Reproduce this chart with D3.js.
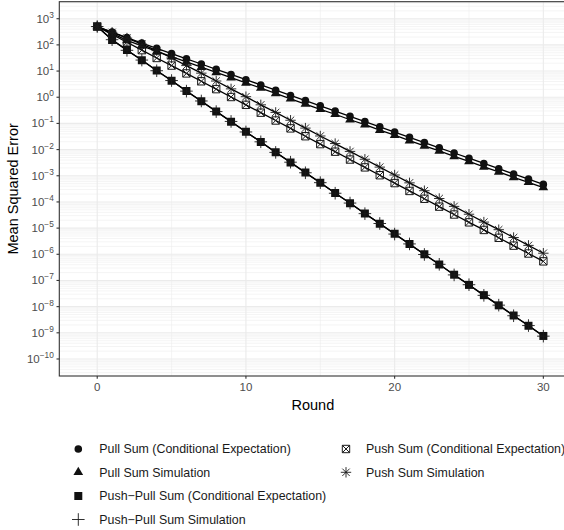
<!DOCTYPE html>
<html>
<head>
<meta charset="utf-8">
<script src="https://cdn.jsdelivr.net/npm/d3@7"></script>
<style>
  html, body { margin: 0; padding: 0; background: #fff; }
  svg { display: block; font-family: "Liberation Sans", Arial, sans-serif; }
</style>
</head>
<body>
<svg id="chart" width="564" height="530"></svg>
<script>
// Rounds of the gossip protocol
const rounds = d3.range(0, 31);

// Mean squared error per round for each aggregation scheme
const pullSumCE = [501, 309, 191, 117, 74.1, 46.8, 29.5, 18.6, 11.7, 7.41, 4.68, 2.95, 1.86, 1.17,
  0.741, 0.468, 0.295, 0.186, 0.117, 0.0741, 0.0468, 0.0295, 0.0186, 0.0117, 0.00741, 0.00468,
  0.00295, 0.00186, 0.00117, 0.000741, 0.000468];
const pullSumSim = [501, 275, 148, 91.2, 56.2, 35.5, 22.4, 14.1, 8.91, 5.62, 3.55, 2.24, 1.41, 0.871,
  0.550, 0.347, 0.224, 0.138, 0.0891, 0.0550, 0.0355, 0.0219, 0.0138, 0.00891, 0.00550, 0.00355,
  0.00219, 0.00141, 0.000871, 0.000562, 0.000355];
const pushPullCE = [501, 155, 63.1, 25.7, 10.5, 4.27, 1.74, 0.708, 0.288, 0.117, 0.0479, 0.0195,
  0.00794, 0.00324, 0.00132, 0.000537, 0.000219, 8.91e-5, 3.63e-5, 1.48e-5, 6.03e-6, 2.45e-6,
  1.00e-6, 4.07e-7, 1.66e-7, 6.76e-8, 2.75e-8, 1.12e-8, 4.57e-9, 1.86e-9, 7.59e-10];
const pushPullSim = [501, 158, 62.0, 26.3, 10.3, 4.35, 1.71, 0.72, 0.283, 0.119, 0.0471, 0.0198,
  0.00781, 0.00330, 0.00130, 0.000546, 0.000215, 9.06e-5, 3.57e-5, 1.50e-5, 5.93e-6, 2.49e-6,
  9.84e-7, 4.14e-7, 1.63e-7, 6.88e-8, 2.70e-8, 1.14e-8, 4.49e-9, 1.89e-9, 7.46e-10];
const pushSumCE = [501, 251, 126, 63.1, 31.6, 16.2, 8.13, 4.07, 2.04, 1.02, 0.513, 0.257, 0.129,
  0.0646, 0.0324, 0.0162, 0.00832, 0.00417, 0.00209, 0.00105, 0.000525, 0.000263, 0.000132,
  6.61e-5, 3.31e-5, 1.66e-5, 8.51e-6, 4.27e-6, 2.14e-6, 1.07e-6, 5.37e-7];
const pushSumSim = [501, 302, 182, 107, 60.3, 31.6, 16.2, 8.32, 4.17, 2.09, 1.05, 0.513, 0.263,
  0.132, 0.0661, 0.0331, 0.0170, 0.00851, 0.00427, 0.00214, 0.00107, 0.000537, 0.000269,
  0.000135, 6.76e-5, 3.39e-5, 1.70e-5, 8.71e-6, 4.37e-6, 2.19e-6, 1.10e-6];

const seriesNames = [
  "Pull Sum (Conditional Expectation)",
  "Pull Sum Simulation",
  "Push\u2212Pull Sum (Conditional Expectation)",
  "Push\u2212Pull Sum Simulation",
  "Push Sum (Conditional Expectation)",
  "Push Sum Simulation"
];
const seriesValues = [pullSumCE, pullSumSim, pushPullCE, pushPullSim, pushSumCE, pushSumSim];
const seriesShapes = ["circle", "triangle", "square", "plus", "boxcross", "asterisk"];

const xTicks = [0, 10, 20, 30];
const yTickExponents = d3.range(-10, 4);

// ---- layout ----
const svg = d3.select("#chart");
const W = 564, H = 530;
const panel = { left: 59.3, top: 1.7, right: 566.4, bottom: 376 };

const x = d3.scaleLinear().domain([-2.55, 31.55]).range([panel.left, panel.right]);
const y = d3.scaleLog().domain([Math.pow(10, 3.65), Math.pow(10, -10.65)]).range([panel.top, panel.bottom]);

svg.append("rect").attr("width", W).attr("height", H).attr("fill", "#fff");

svg.append("defs").append("clipPath").attr("id", "panelClip")
  .append("rect")
  .attr("x", panel.left).attr("y", panel.top)
  .attr("width", panel.right - panel.left).attr("height", panel.bottom - panel.top);

const grid = svg.append("g").attr("clip-path", "url(#panelClip)");

// minor grid: 2..9 x 10^k horizontally, half-decades of rounds vertically
const minorY = [];
for (let k = -11; k <= 3; k++) for (let m = 2; m <= 9; m++) minorY.push(m * Math.pow(10, k));
grid.selectAll("line.minor-y").data(minorY).enter().append("line")
  .attr("x1", panel.left).attr("x2", panel.right)
  .attr("y1", d => y(d)).attr("y2", d => y(d))
  .attr("stroke", "#ebebeb").attr("stroke-width", 0.55);
grid.selectAll("line.minor-x").data([5, 15, 25]).enter().append("line")
  .attr("y1", panel.top).attr("y2", panel.bottom)
  .attr("x1", d => x(d)).attr("x2", d => x(d))
  .attr("stroke", "#ebebeb").attr("stroke-width", 0.55);
// major grid
grid.selectAll("line.major-y").data(yTickExponents.map(e => Math.pow(10, e))).enter().append("line")
  .attr("x1", panel.left).attr("x2", panel.right)
  .attr("y1", d => y(d)).attr("y2", d => y(d))
  .attr("stroke", "#ebebeb").attr("stroke-width", 1.1);
grid.selectAll("line.major-x").data(xTicks).enter().append("line")
  .attr("y1", panel.top).attr("y2", panel.bottom)
  .attr("x1", d => x(d)).attr("x2", d => x(d))
  .attr("stroke", "#ebebeb").attr("stroke-width", 1.1);

// ---- point shapes ----
function shapePath(shape, cx, cy) {
  const p = d3.path();
  if (shape === "circle") {
    const r = 3.8;
    p.moveTo(cx + r, cy); p.arc(cx, cy, r, 0, 2 * Math.PI);
  } else if (shape === "triangle") {
    const r = 5.6, hw = r * 0.866, b = r * 0.5;
    p.moveTo(cx, cy - r); p.lineTo(cx + hw, cy + b); p.lineTo(cx - hw, cy + b); p.closePath();
  } else if (shape === "square") {
    const s = 4.0;
    p.rect(cx - s, cy - s, 2 * s, 2 * s);
  } else if (shape === "plus") {
    const a = 6.3;
    p.moveTo(cx - a, cy); p.lineTo(cx + a, cy); p.moveTo(cx, cy - a); p.lineTo(cx, cy + a);
  } else if (shape === "boxcross") {
    const s = 3.7;
    p.rect(cx - s, cy - s, 2 * s, 2 * s);
    p.moveTo(cx - s, cy - s); p.lineTo(cx + s, cy + s);
    p.moveTo(cx + s, cy - s); p.lineTo(cx - s, cy + s);
  } else if (shape === "asterisk") {
    const a = 5.2, d = a * 0.7071;
    p.moveTo(cx - a, cy); p.lineTo(cx + a, cy); p.moveTo(cx, cy - a); p.lineTo(cx, cy + a);
    p.moveTo(cx - d, cy - d); p.lineTo(cx + d, cy + d); p.moveTo(cx + d, cy - d); p.lineTo(cx - d, cy + d);
  }
  return p.toString();
}
function shapeStyle(sel, shape) {
  if (shape === "circle" || shape === "triangle" || shape === "square") {
    sel.attr("fill", "#111").attr("stroke", "none");
  } else {
    sel.attr("fill", "none").attr("stroke", "#1a1a1a").attr("stroke-width", shape === "boxcross" ? 1.0 : 0.9);
  }
}

// ---- lines then points ----
const plot = svg.append("g").attr("clip-path", "url(#panelClip)");
const line = d3.line().x((d, i) => x(rounds[i])).y(d => y(d));
seriesValues.forEach(vals => {
  plot.append("path").datum(vals).attr("d", line)
    .attr("fill", "none").attr("stroke", "#000").attr("stroke-width", 1.3);
});
seriesValues.forEach((vals, si) => {
  const shape = seriesShapes[si];
  const g = plot.append("g");
  vals.forEach((v, i) => {
    const el = g.append("path").attr("d", shapePath(shape, x(rounds[i]), y(v)));
    shapeStyle(el, shape);
  });
});

// ---- panel border and axes ----
svg.append("rect")
  .attr("x", panel.left).attr("y", panel.top)
  .attr("width", panel.right - panel.left).attr("height", panel.bottom - panel.top)
  .attr("fill", "none").attr("stroke", "#333").attr("stroke-width", 1.1);

const yAxis = svg.append("g");
yTickExponents.forEach(e => {
  const yy = y(Math.pow(10, e));
  yAxis.append("line").attr("x1", panel.left - 2.8).attr("x2", panel.left)
    .attr("y1", yy).attr("y2", yy).attr("stroke", "#333").attr("stroke-width", 1.1);
  const t = yAxis.append("text").attr("x", panel.left - 5.5).attr("y", yy + 4)
    .attr("text-anchor", "end").attr("fill", "#4d4d4d").attr("font-size", 11.5);
  t.append("tspan").text("10");
  t.append("tspan").attr("font-size", 8.3).attr("dy", -5).text(e < 0 ? "\u2212" + (-e) : String(e));
});

const xAxis = svg.append("g");
xTicks.forEach(v => {
  const xx = x(v);
  xAxis.append("line").attr("x1", xx).attr("x2", xx)
    .attr("y1", panel.bottom).attr("y2", panel.bottom + 2.8)
    .attr("stroke", "#333").attr("stroke-width", 1.1);
  xAxis.append("text").attr("x", xx).attr("y", panel.bottom + 15)
    .attr("text-anchor", "middle").attr("fill", "#4d4d4d").attr("font-size", 11.5).text(v);
});

svg.append("text").attr("x", (panel.left + panel.right) / 2).attr("y", 410)
  .attr("text-anchor", "middle").attr("font-size", 14.5).attr("fill", "#000").text("Round");
svg.append("text")
  .attr("transform", `translate(18,${(panel.top + panel.bottom) / 2}) rotate(-90)`)
  .attr("text-anchor", "middle").attr("font-size", 14.5).attr("fill", "#000").text("Mean Squared Error");

// ---- legend ----
const legendRows = [449, 472.3, 496, 519.5];
const legendCols = [{ key: 78.3, text: 99.3 }, { key: 346, text: 366 }];
seriesNames.forEach((name, i) => {
  const col = i < 4 ? 0 : 1;
  const row = i < 4 ? i : i - 4;
  const cy = legendRows[row];
  const el = svg.append("path").attr("d", shapePath(seriesShapes[i], legendCols[col].key, cy));
  shapeStyle(el, seriesShapes[i]);
  svg.append("text").attr("x", legendCols[col].text).attr("y", cy + 4.4)
    .attr("font-size", 12.4).attr("fill", "#1a1a1a").text(name);
});
</script>
</body>
</html>
